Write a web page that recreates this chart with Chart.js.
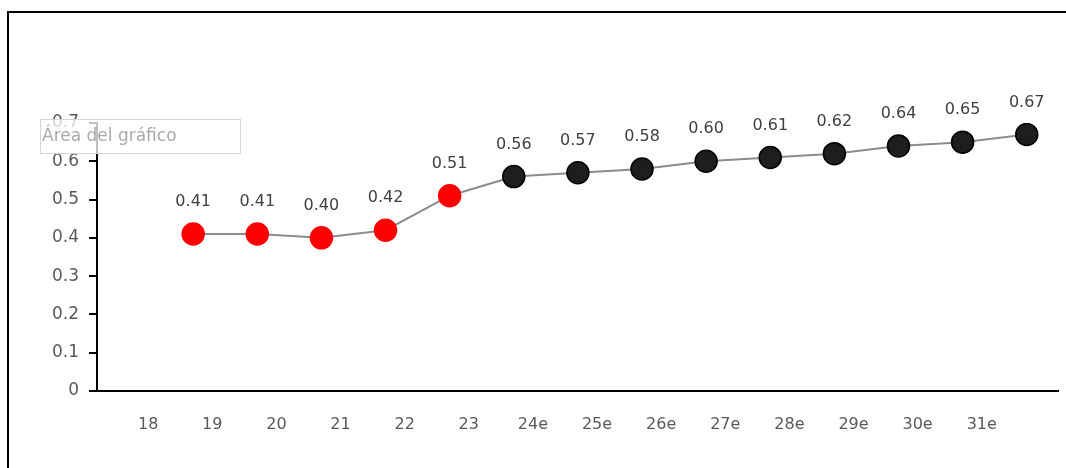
<!DOCTYPE html>
<html>
<head>
<meta charset="utf-8">
<script src="https://cdn.jsdelivr.net/npm/chart.js@4"></script>
<style>
  body { margin: 0; background: #fff; overflow: hidden; }
  #frame {
    position: absolute; left: 7px; top: 11px;
    width: 1100px; height: 500px;
    border: 2px solid #000;
  }
  #wrap { position: absolute; left: 0; top: 0; width: 1066px; height: 468px; }
</style>
</head>
<body>
<div id="frame"></div>
<div id="wrap"><canvas id="chart"></canvas></div>
<script>
// tick labels on the x axis
const tickLabels = ["18", "19", "20", "21", "22", "23", "24e", "25e", "26e", "27e", "28e", "29e", "30e", "31e"];
// values
const values = [0.41, 0.41, 0.40, 0.42, 0.51, 0.56, 0.57, 0.58, 0.60, 0.61, 0.62, 0.64, 0.65, 0.67];
// first five are actual (red), rest are estimates (black)
const isEstimate = [false, false, false, false, false, true, true, true, true, true, true, true, true, true];

const points = values.map((v, i) => ({ x: i + 1, y: v }));

// draws the value above each point
const valueLabels = {
  id: "valueLabels",
  afterDatasetsDraw(chart) {
    const ctx = chart.ctx;
    const meta = chart.getDatasetMeta(0);
    ctx.save();
    ctx.font = "16px 'DejaVu Sans'";
    ctx.fillStyle = "#404040";
    ctx.textAlign = "center";
    ctx.textBaseline = "bottom";
    meta.data.forEach((pt, i) => {
      ctx.fillText(values[i].toFixed(2), pt.x, pt.y - 24);
    });
    ctx.restore();
  },
};

// the "Área del gráfico" hover box left in the screenshot
const hoverBox = {
  id: "hoverBox",
  afterDraw(chart) {
    const ctx = chart.ctx;
    ctx.save();
    ctx.fillStyle = "rgba(255,255,255,0.75)";
    ctx.fillRect(40, 119, 200, 34);
    ctx.strokeStyle = "#d6d6d6";
    ctx.lineWidth = 1;
    ctx.strokeRect(40.5, 119.5, 200, 34);
    ctx.fillStyle = "#aaaaaa";
    ctx.font = "17px 'DejaVu Sans'";
    ctx.textBaseline = "middle";
    ctx.fillText("Área del gráfico", 42, 137);
    ctx.restore();
  },
};

new Chart(document.getElementById("chart"), {
  type: "line",
  data: {
    datasets: [
      {
        data: points,
        borderColor: "#8c8c8c",
        borderWidth: 2,
        pointRadius: 11,
        pointHoverRadius: 11,
        pointBackgroundColor: isEstimate.map((e) => (e ? "#1e1e1e" : "#ff0000")),
        pointBorderColor: isEstimate.map((e) => (e ? "#000000" : "#ff0000")),
        pointBorderWidth: 1.5,
        tension: 0,
      },
    ],
  },
  options: {
    responsive: true,
    maintainAspectRatio: false,
    animation: false,
    layout: { autoPadding: false, padding: { top: 123, right: 5, left: 0, bottom: 0 } },
    plugins: {
      legend: { display: false },
      tooltip: { enabled: false },
    },
    scales: {
      x: {
        type: "linear",
        min: -0.5,
        max: 14.5,
        afterBuildTicks: (scale) => {
          scale.ticks = tickLabels.map((t, i) => ({ value: i + 1 }));
        },
        afterFit: (scale) => {
          scale.height = 77;
        },
        grid: { display: false, drawTicks: false },
        border: { display: true, color: "#000", width: 2 },
        ticks: {
          autoSkip: false,
          maxRotation: 0,
          padding: 24,
          labelOffset: -45,
          color: "#595959",
          font: { family: "DejaVu Sans", size: 16 },
          callback: (v) => tickLabels[v - 1],
        },
      },
      y: {
        min: 0,
        max: 0.7,
        afterFit: (scale) => {
          scale.width = 97;
        },
        grid: {
          drawOnChartArea: false,
          drawTicks: true,
          tickLength: 8,
          color: "#000",
          lineWidth: 2,
        },
        border: { display: true, color: "#000", width: 2 },
        ticks: {
          stepSize: 0.1,
          padding: 10,
          color: "#595959",
          font: { family: "DejaVu Sans", size: 17 },
          callback: (v) => (v === 0 ? "0" : Number(v).toFixed(1)),
        },
      },
    },
  },
  plugins: [valueLabels, hoverBox],
});
</script>
</body>
</html>
